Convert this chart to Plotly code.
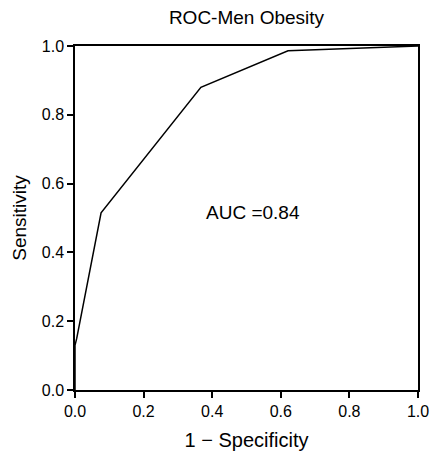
import plotly.graph_objects as go

fpr = [0.0, 0.0, 0.005, 0.076, 0.367, 0.621, 1.0]
tpr = [0.0, 0.13, 0.15, 0.515, 0.88, 0.986, 1.0]
ticks = [0.0, 0.2, 0.4, 0.6, 0.8, 1.0]
tick_text = ["0.0", "0.2", "0.4", "0.6", "0.8", "1.0"]
title = "ROC-Men Obesity"
auc_label = "AUC =0.84"

FONT = "Liberation Sans, Arial, sans-serif"

fig = go.Figure()
fig.add_trace(go.Scatter(x=fpr, y=tpr, mode="lines",
                         line=dict(color="black", width=1.5), showlegend=False))

fig.add_annotation(x=0.52, y=0.515, text=auc_label, showarrow=False,
                   font=dict(size=19, color="black", family=FONT))

axis_common = dict(range=[0, 1], tickvals=ticks, ticktext=tick_text,
                   ticks="outside", ticklen=6, tickwidth=1.5, tickcolor="black",
                   showline=True, linecolor="black", linewidth=1.5, mirror=True,
                   showgrid=False, zeroline=False, automargin=False,
                   tickfont=dict(size=16, color="black", family=FONT))

fig.update_xaxes(**axis_common,
                 title=dict(text="1 − Specificity", font=dict(size=20, color="black", family=FONT), standoff=14))
fig.update_yaxes(**axis_common,
                 title=dict(text="Sensitivity", font=dict(size=19, color="black", family=FONT), standoff=10))

fig.update_layout(
    width=434, height=462,
    margin=dict(l=75, r=16, t=46, b=72, autoexpand=False),
    paper_bgcolor="white", plot_bgcolor="white",
    title=dict(text=title, xref="paper", x=0.5, xanchor="center", y=0.962, yanchor="middle",
               font=dict(size=19, color="black", family=FONT)),
)

fig.write_html("out.html")
